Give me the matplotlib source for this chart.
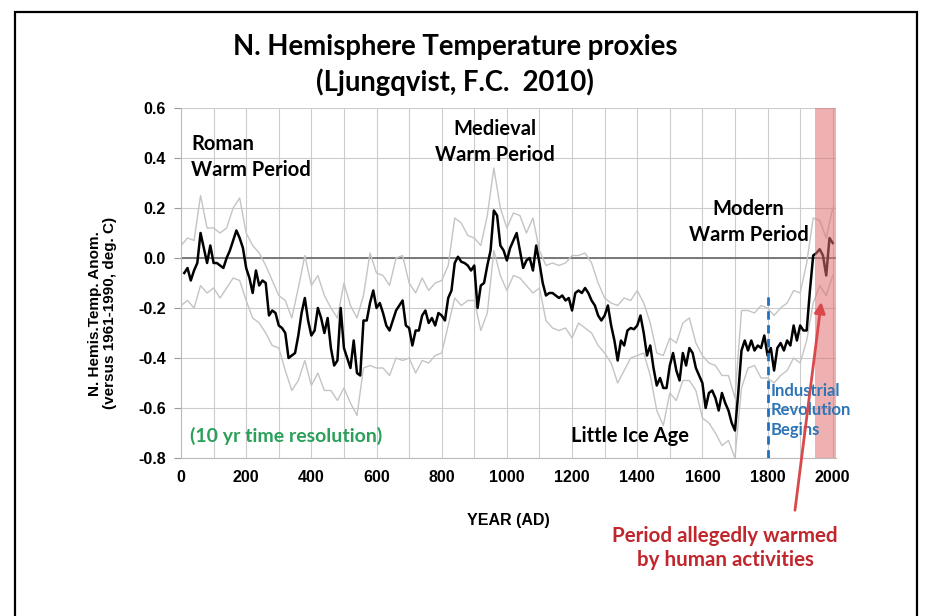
import numpy as np
import matplotlib
matplotlib.use("Agg")
import matplotlib.pyplot as plt
from matplotlib.patches import Rectangle

# decadal reconstruction (10 yr resolution), years 10..2000
years = np.arange(10, 2001, 10)
temp = [
    -0.06, -0.04, -0.09, -0.05, -0.02, 0.10, 0.04, -0.02, 0.05, -0.02,
    -0.02, -0.03, -0.04, 0.00, 0.03, 0.07, 0.11, 0.08, 0.04, -0.04,
    -0.08, -0.14, -0.05, -0.11, -0.09, -0.10, -0.23, -0.21, -0.22, -0.27,
    -0.28, -0.30, -0.40, -0.39, -0.38, -0.31, -0.22, -0.16, -0.25, -0.31,
    -0.29, -0.20, -0.24, -0.30, -0.24, -0.36, -0.43, -0.41, -0.20, -0.36,
    -0.40, -0.44, -0.33, -0.46, -0.47, -0.25, -0.25, -0.18, -0.13, -0.20,
    -0.18, -0.22, -0.27, -0.29, -0.25, -0.21, -0.19, -0.17, -0.27, -0.28,
    -0.35, -0.29, -0.29, -0.23, -0.21, -0.26, -0.24, -0.27, -0.22, -0.23,
    -0.25, -0.16, -0.13, -0.02, 0.005, -0.015, -0.02, -0.03, -0.05, -0.03,
    -0.20, -0.11, -0.10, -0.03, 0.03, 0.19, 0.17, 0.05, 0.03, -0.01,
    0.04, 0.07, 0.10, 0.03, -0.04, -0.01, 0.00, -0.05, 0.05, -0.02,
    -0.10, -0.15, -0.14, -0.14, -0.15, -0.16, -0.15, -0.17, -0.16, -0.21,
    -0.14, -0.13, -0.14, -0.12, -0.14, -0.17, -0.19, -0.23, -0.25, -0.23,
    -0.19, -0.27, -0.33, -0.41, -0.33, -0.35, -0.29, -0.28, -0.285, -0.27,
    -0.23, -0.30, -0.39, -0.35, -0.44, -0.51, -0.48, -0.52, -0.52, -0.43,
    -0.38, -0.45, -0.49, -0.38, -0.43, -0.36, -0.38, -0.44, -0.47, -0.50,
    -0.60, -0.54, -0.53, -0.56, -0.61, -0.54, -0.58, -0.61, -0.66, -0.69,
    -0.54, -0.37, -0.33, -0.37, -0.33, -0.37, -0.35, -0.36, -0.31, -0.39,
    -0.36, -0.45, -0.36, -0.34, -0.37, -0.33, -0.35, -0.27, -0.33, -0.27,
    -0.29, -0.29, -0.13, 0.01, 0.02, 0.035, 0.01, -0.07, 0.08, 0.06,
]

# uncertainty envelope, read at 20 yr spacing
band_years = np.arange(0, 2001, 20)
upper = [
    0.05, 0.08, 0.07, 0.25, 0.12, 0.12, 0.10, 0.12, 0.20, 0.24,
    0.10, 0.05, 0.02, -0.03, -0.09, -0.15, -0.17, -0.24, -0.12, 0.01,
    -0.11, -0.07, -0.15, -0.20, -0.24, -0.10, -0.19, -0.24, -0.15, 0.02,
    -0.06, -0.07, -0.11, 0.00, 0.01, -0.10, -0.14, -0.08, -0.13, -0.10,
    -0.09, -0.03, 0.16, 0.14, 0.09, 0.08, 0.05, 0.17, 0.36, 0.20,
    0.12, 0.18, 0.17, 0.10, 0.16, 0.03, -0.03, -0.02, -0.03, -0.02,
    0.01, 0.01, 0.02, -0.02, -0.10, -0.16, -0.18, -0.19, -0.16, -0.17,
    -0.13, -0.18, -0.26, -0.38, -0.39, -0.32, -0.34, -0.26, -0.24, -0.34,
    -0.39, -0.42, -0.43, -0.47, -0.47, -0.56, -0.21, -0.21, -0.22, -0.19,
    -0.20, -0.23, -0.20, -0.18, -0.13, -0.14, -0.02, 0.16, 0.15, 0.08,
    0.20,
]
lower = [
    -0.19, -0.17, -0.20, -0.11, -0.14, -0.12, -0.16, -0.12, -0.08, -0.09,
    -0.17, -0.24, -0.26, -0.30, -0.35, -0.36, -0.45, -0.53, -0.49, -0.41,
    -0.51, -0.46, -0.53, -0.53, -0.57, -0.52, -0.58, -0.63, -0.44, -0.43,
    -0.44, -0.44, -0.47, -0.40, -0.41, -0.40, -0.46, -0.41, -0.42, -0.39,
    -0.38, -0.27, -0.16, -0.19, -0.17, -0.17, -0.29, -0.22, 0.03, -0.07,
    -0.13, -0.07, -0.08, -0.11, -0.14, -0.12, -0.25, -0.28, -0.29, -0.28,
    -0.32, -0.26, -0.28, -0.30, -0.35, -0.38, -0.42, -0.50, -0.45, -0.40,
    -0.39, -0.38, -0.47, -0.61, -0.67, -0.54, -0.57, -0.49, -0.49, -0.53,
    -0.64, -0.66, -0.70, -0.75, -0.73, -0.80, -0.52, -0.44, -0.43, -0.48,
    -0.48, -0.50, -0.47, -0.45, -0.40, -0.42, -0.33, -0.18, -0.11, -0.15,
    -0.07,
]

x_ticks = list(range(0, 2001, 200))
y_ticks = [-0.8, -0.6, -0.4, -0.2, 0.0, 0.2, 0.4, 0.6]

AX_FONT = "Liberation Sans"
TXT_FONT = "Lato"

fig = plt.figure(figsize=(9.25, 6.16), dpi=100)
ax = fig.add_axes([181/925, 158/616, 655/925, 350/616])

ax.plot(band_years, upper, color="#c4c4c4", lw=1.0, zorder=2)
ax.plot(band_years, lower, color="#c4c4c4", lw=1.0, zorder=2)
ax.plot(years, temp, color="black", lw=1.8, zorder=3)

ax.axhline(0, color="#707070", lw=1.3, zorder=1.5)
ax.axvspan(1945, 2010, color="#e07070", alpha=0.55, lw=0, zorder=4)
ax.vlines(1800, -0.8, -0.15, colors="#1f6fc0", linestyles=(0, (3, 2)), lw=2, zorder=5)

ax.set_xlim(0, 2010)
ax.set_ylim(-0.8, 0.6)
ax.set_xticks(x_ticks)
ax.set_xticks(range(0, 2001, 100), minor=True)
ax.set_yticks(y_ticks)
ax.set_yticklabels([f"{v:.1f}" for v in y_ticks])
ax.grid(True, which="both", color="#cccccc", lw=0.8, zorder=0)
ax.set_axisbelow(True)
for s in ["top", "right"]:
    ax.spines[s].set_visible(False)
for s in ["left", "bottom"]:
    ax.spines[s].set_color("#bbbbbb")
ax.tick_params(axis="y", length=5, color="#999999", labelsize=11.5, pad=6)
ax.tick_params(axis="x", which="both", length=0, labelsize=11.5, pad=9)
for lab in ax.get_xticklabels() + ax.get_yticklabels():
    lab.set_fontweight("bold")
    lab.set_fontfamily(AX_FONT)

ax.set_xlabel("YEAR (AD)", fontsize=11.5, fontweight="bold", family=AX_FONT, labelpad=20)
ax.set_ylabel("N. Hemis.Temp. Anom.\n(versus 1961-1990, deg. C)", fontsize=11,
              fontweight="bold", family=AX_FONT, linespacing=1.05)
ax.yaxis.set_label_coords(-0.098, 0.414)

fig.text(455/925, 1 - 65/616, "N. Hemisphere Temperature proxies\n(Ljungqvist, F.C.  2010)",
         ha="center", va="center", fontsize=19.8, fontweight="bold", family=TXT_FONT,
         linespacing=1.4)

ax.text(32, 0.495, "Roman\nWarm Period", fontsize=14.5, fontweight="bold", family=TXT_FONT,
        ha="left", va="top", linespacing=1.35)
ax.text(962, 0.555, "Medieval\nWarm Period", fontsize=14.5, fontweight="bold", family=TXT_FONT,
        ha="center", va="top", linespacing=1.35)
ax.text(1742, 0.235, "Modern\nWarm Period", fontsize=14.5, fontweight="bold", family=TXT_FONT,
        ha="center", va="top", linespacing=1.35)
ax.text(1378, -0.713, "Little Ice Age", fontsize=14.5, fontweight="bold", family=TXT_FONT,
        ha="center", va="center")
ax.text(28, -0.713, "(10 yr time resolution)", fontsize=14, fontweight="bold", family=TXT_FONT,
        color="#2aa05a", ha="left", va="center")
ax.text(1810, -0.50, "Industrial\nRevolution\nBegins", fontsize=12, family=TXT_FONT,
        fontweight="bold", color="#2e75b6", ha="left", va="top", linespacing=1.25, zorder=6)

ax.annotate("", xy=(1966, -0.165), xytext=(1883, -1.02), xycoords="data",
            annotation_clip=False,
            arrowprops=dict(arrowstyle="-|>", color="#d9484a", lw=2,
                            mutation_scale=16), zorder=7)
fig.text(725/925, 1 - 548/616, "Period allegedly warmed\nby human activities",
         ha="center", va="center", fontsize=14.8, fontweight="bold", family=TXT_FONT,
         color="#c0262c", linespacing=1.25)

fig.add_artist(Rectangle((15/925, -0.05), (917-15)/925, 1.05 - 12/616,
                         transform=fig.transFigure, fill=False, ec="black", lw=1.6))

fig.savefig("out.png", dpi=100)
